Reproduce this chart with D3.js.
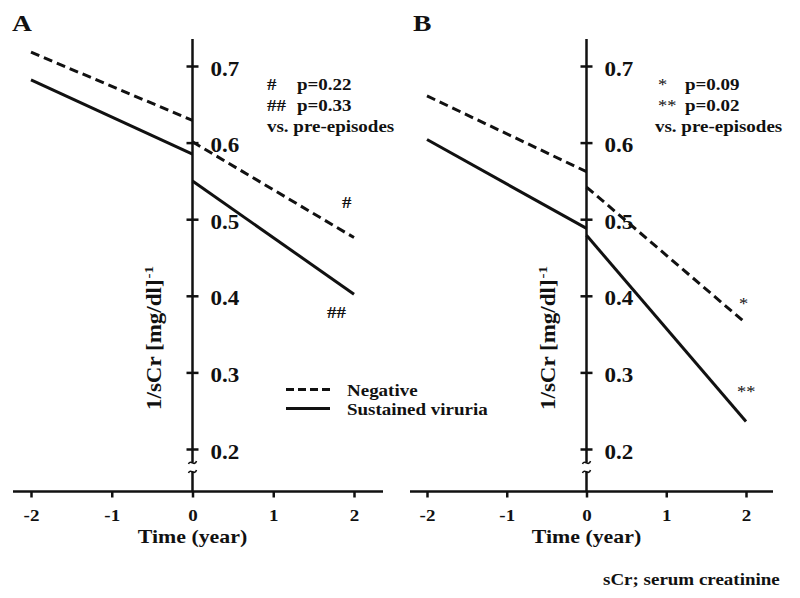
<!DOCTYPE html>
<html>
<head>
<meta charset="utf-8">
<script src="https://cdn.jsdelivr.net/npm/d3@7"></script>
<style>
  html, body { margin: 0; padding: 0; background: #fff; }
  svg text { font-family: "Liberation Serif", "Times New Roman", serif; font-weight: bold; fill: #111; }
</style>
</head>
<body>
<svg id="chart" width="800" height="598"></svg>
<script>
// ---- data ----
const xTicks = [-2, -1, 0, 1, 2];
const yTicks = [0.2, 0.3, 0.4, 0.5, 0.6, 0.7];
const preYears = [-2, 0];
const postYears = [0, 2];

// Panel A
const negPreA  = [0.718, 0.629];
const negPostA = [0.601, 0.476];
const susPreA  = [0.682, 0.585];
const susPostA = [0.550, 0.402];
// Panel B
const negPreB  = [0.661, 0.562];
const negPostB = [0.542, 0.364];
const susPreB  = [0.604, 0.488];
const susPostB = [0.479, 0.236];

const seriesNames = ["Negative", "Sustained viruria"];
const notesA = [["#", "p=0.22"], ["##", "p=0.33"]];
const notesB = [["*", "p=0.09"], ["**", "p=0.02"]];
const notesTail = "vs. pre-episodes";

// ---- layout ----
const svg = d3.select("#chart");
const STRETCH = 1.15;
function stretch(sel) {
  sel.each(function () {
    const L = this.getComputedTextLength();
    d3.select(this).attr("textLength", L * STRETCH).attr("lengthAdjust", "spacingAndGlyphs");
  });
  return sel;
}

const y = d3.scaleLinear().domain([0.2, 0.7]).range([449, 66]);
const axisY = 491.5;
const axisTopY = 39;

function panel(opt) {
  const x = d3.scaleLinear().domain([-2, 2]).range(opt.xr);
  const x0 = x(0);
  const g = svg.append("g");

  // panel letter
  stretch(g.append("text").attr("x", opt.letterX).attr("y", 31)
    .style("font-size", "24px").text(opt.letter));

  // x axis
  const xa = g.append("g").attr("transform", `translate(0,${axisY})`)
    .call(d3.axisBottom(x).tickValues(xTicks).tickSize(6).tickSizeOuter(0).tickFormat(d3.format("d")));
  xa.select(".domain").remove();
  xa.selectAll(".tick line").attr("stroke", "#111").attr("stroke-width", 2.5);
  xa.selectAll(".tick text").attr("y", 0).attr("dy", null).attr("transform", "translate(0,29)")
    .style("font-size", "16.5px").style("font-family", "Liberation Serif").style("font-weight", "bold")
    .attr("fill", "#111").text(d => d < 0 ? "-" + Math.abs(d) : d);
  stretch(xa.selectAll(".tick text"));
  g.append("line").attr("x1", opt.xLine[0]).attr("x2", opt.xLine[1])
    .attr("y1", axisY).attr("y2", axisY).attr("stroke", "#111").attr("stroke-width", 2.5);

  // y axis
  const ya = g.append("g").attr("transform", `translate(${x0},0)`)
    .call(d3.axisRight(y).tickValues(yTicks).tickSize(6).tickSizeOuter(0).tickFormat(d3.format(".1f")));
  ya.select(".domain").remove();
  ya.selectAll(".tick line").attr("x1", -6).attr("x2", 6).attr("stroke", "#111").attr("stroke-width", 2.5);
  ya.selectAll(".tick text").attr("x", 18).attr("dy", null).attr("y", 9)
    .style("font-size", "20px").style("font-family", "Liberation Serif").style("font-weight", "bold")
    .attr("fill", "#111");
  stretch(ya.selectAll(".tick text"));

  // y axis line with break
  const ax = g.append("g").attr("stroke", "#111").attr("stroke-width", 2.5).attr("fill", "none");
  ax.append("line").attr("x1", x0).attr("x2", x0).attr("y1", axisTopY).attr("y2", 462);
  ax.append("path").attr("stroke-width", 1.6)
    .attr("d", `M${x0 - 4},464 C${x0 - 2},459 ${x0 + 2},467 ${x0 + 4},461`);
  ax.append("path").attr("stroke-width", 1.6)
    .attr("d", `M${x0 - 4},473 C${x0 - 2},468 ${x0 + 2},476 ${x0 + 4},470`);
  ax.append("line").attr("x1", x0).attr("x2", x0).attr("y1", 472).attr("y2", axisY);

  // y title
  const yt = g.append("g").attr("transform", `translate(${x0 - 32},410) rotate(-90)`);
  const ytMain = yt.append("text").style("font-size", "20px").text("1/sCr [mg/dl]");
  stretch(ytMain);
  const mainLen = +ytMain.attr("textLength");
  stretch(yt.append("text").attr("x", mainLen + 1).attr("y", -8).style("font-size", "13px").text("-1"));

  // x title
  stretch(g.append("text").attr("x", x0).attr("y", 543).attr("text-anchor", "middle")
    .style("font-size", "19px").text("Time (year)"));

  // lines
  const line = d3.line().x(d => x(d[0])).y(d => y(d[1]));
  const segs = [
    [preYears, opt.negPre, true], [postYears, opt.negPost, true],
    [preYears, opt.susPre, false], [postYears, opt.susPost, false]
  ];
  segs.forEach(([yrs, vals, dashed]) => {
    g.append("path").datum(yrs.map((yr, i) => [yr, vals[i]]))
      .attr("d", line).attr("fill", "none").attr("stroke", "#111").attr("stroke-width", 3)
      .attr("stroke-dasharray", dashed ? "9,5" : null);
  });

  // notes
  opt.notes.forEach((n, i) => {
    const t1 = g.append("text").attr("x", opt.noteX).attr("y", 89.5 + i * 21.5)
      .style("font-size", opt.symBold ? "16.5px" : "16px")
      .style("font-weight", opt.symBold ? "bold" : "normal").text(n[0]);
    stretch(t1);
    stretch(g.append("text").attr("x", opt.noteX2).attr("y", 89.5 + i * 21.5)
      .style("font-size", "16.5px").text(n[1]));
  });
  stretch(g.append("text").attr("x", opt.tailX).attr("y", 132)
    .style("font-size", "16.5px").text(notesTail));

  // end-of-line marks
  opt.marks.forEach(m => {
    stretch(g.append("text").attr("x", m.x).attr("y", m.y)
      .style("font-size", opt.symBold ? "16.5px" : "16px")
      .style("font-weight", opt.symBold ? "bold" : "normal").text(m.t));
  });
  return x;
}

panel({
  letter: "A", letterX: 12, xr: [31, 354], xLine: [13, 383],
  negPre: negPreA, negPost: negPostA, susPre: susPreA, susPost: susPostA,
  notes: notesA, noteX: 267, noteX2: 297, tailX: 267, symBold: true,
  marks: [{ t: "#", x: 342, y: 208 }, { t: "##", x: 327, y: 318 }]
});
panel({
  letter: "B", letterX: 413, xr: [427, 746], xLine: [410, 773],
  negPre: negPreB, negPost: negPostB, susPre: susPreB, susPost: susPostB,
  notes: notesB, noteX: 658, noteX2: 685, tailX: 655, symBold: false,
  marks: [{ t: "*", x: 739, y: 309 }, { t: "**", x: 737, y: 397 }]
});

// legend (panel A)
const leg = svg.append("g");
seriesNames.forEach((name, i) => {
  const ly = 389.5 + i * 19;
  leg.append("line").attr("x1", 286).attr("x2", 330).attr("y1", ly).attr("y2", ly)
    .attr("stroke", "#111").attr("stroke-width", 3).attr("stroke-dasharray", i === 0 ? "8,4" : null);
  stretch(leg.append("text").attr("x", 347).attr("y", ly + 6).style("font-size", "16.5px").text(name));
});

// footnote
stretch(svg.append("text").attr("x", 603).attr("y", 585).style("font-size", "16.5px").text("sCr; serum creatinine"));
</script>
</body>
</html>
